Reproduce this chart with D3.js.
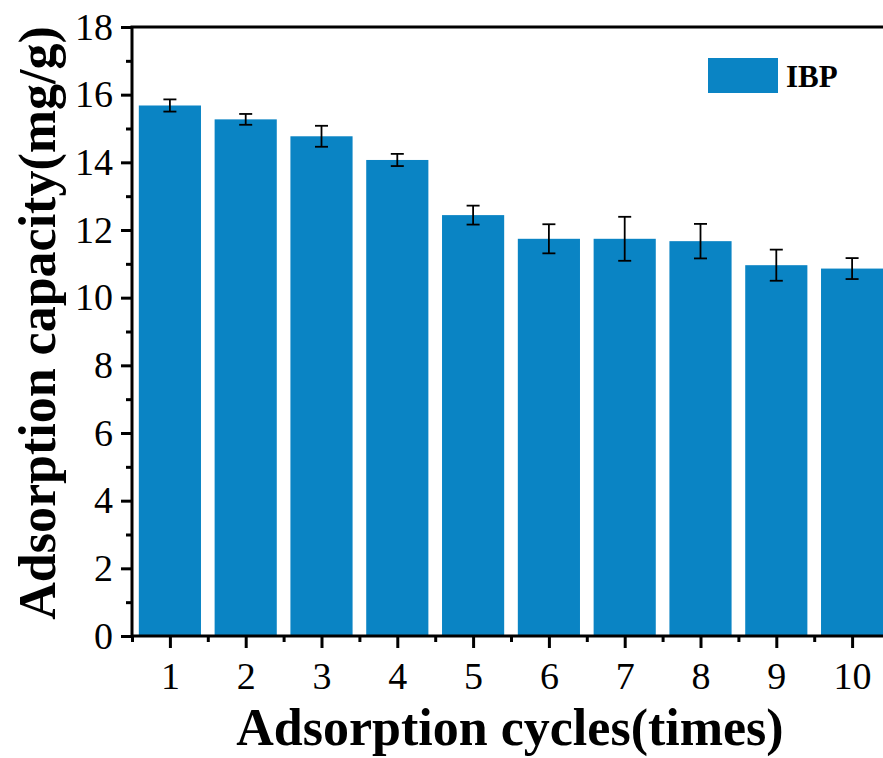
<!DOCTYPE html>
<html>
<head>
<meta charset="utf-8">
<script src="https://cdn.jsdelivr.net/npm/d3@7"></script>
<style>
  body { margin: 0; background: #fff; }
  svg { display: block; }
  text { font-family: "Liberation Serif", "Times New Roman", serif; fill: #000; }
</style>
</head>
<body>
<div id="chart"></div>
<script>
var cycles = [1, 2, 3, 4, 5, 6, 7, 8, 9, 10];
var capacity = [15.68, 15.27, 14.77, 14.07, 12.44, 11.74, 11.74, 11.67, 10.96, 10.86];
var errors = [0.18, 0.16, 0.31, 0.18, 0.28, 0.43, 0.65, 0.51, 0.46, 0.31];
var yTicks = [0, 2, 4, 6, 8, 10, 12, 14, 16, 18];
var seriesName = "IBP";

(function() {
  var width = 883;
  var height = 758;
  var left = 132, top = 27, bottom = 636, right = 890;
  var barColor = "#0a84c4";

  var svg = d3.select("#chart")
    .append("svg")
    .attr("width", width)
    .attr("height", height);

  var x = d3.scaleLinear().domain([0.5, 10.5]).range([left, right]);
  var y = d3.scaleLinear().domain([0, 18]).range([bottom, top]);
  var barW = (x(2) - x(1)) * 0.82;

  // bars
  svg.selectAll(".bar")
    .data(cycles)
    .enter().append("rect")
    .attr("class", "bar")
    .attr("x", function(d){ return x(d) - barW / 2 })
    .attr("y", function(d, i){ return y(capacity[i]) })
    .attr("width", barW)
    .attr("height", function(d, i){ return y(0) - y(capacity[i]) })
    .attr("fill", barColor);

  // error bars
  var eb = svg.selectAll(".err")
    .data(cycles)
    .enter().append("g")
    .attr("class", "err")
    .attr("stroke", "#000")
    .attr("stroke-width", 1.8);
  eb.append("line")
    .attr("x1", function(d){ return x(d) })
    .attr("x2", function(d){ return x(d) })
    .attr("y1", function(d, i){ return y(capacity[i] + errors[i]) })
    .attr("y2", function(d, i){ return y(capacity[i] - errors[i]) });
  [1, -1].forEach(function(s){
    eb.append("line")
      .attr("x1", function(d){ return x(d) - 6.5 })
      .attr("x2", function(d){ return x(d) + 6.5 })
      .attr("y1", function(d, i){ return y(capacity[i] + s * errors[i]) })
      .attr("y2", function(d, i){ return y(capacity[i] + s * errors[i]) });
  });

  // y axis
  var yAxis = svg.append("g")
    .attr("transform", "translate(" + left + ",0)")
    .call(d3.axisLeft(y).tickValues(yTicks).tickSize(11).tickPadding(8).tickFormat(d3.format("d")));
  svg.append("g")
    .attr("transform", "translate(" + left + ",0)")
    .call(d3.axisLeft(y).tickValues(d3.range(1, 18, 2)).tickSize(6).tickFormat(""))
    .select(".domain").remove();

  // x axis
  var xAxis = svg.append("g")
    .attr("transform", "translate(0," + bottom + ")")
    .call(d3.axisBottom(x).tickValues(cycles).tickSize(12).tickPadding(14).tickFormat(d3.format("d")));
  svg.append("g")
    .attr("transform", "translate(0," + bottom + ")")
    .call(d3.axisBottom(x).tickValues(d3.range(0.5, 10.6, 1)).tickSize(6).tickFormat(""))
    .select(".domain").remove();

  svg.selectAll(".tick line").attr("stroke", "#000").attr("stroke-width", 3);
  svg.selectAll(".domain").attr("stroke", "#000").attr("stroke-width", 3);
  yAxis.select(".domain").attr("d", "M0," + bottom + "V" + top);
  xAxis.select(".domain").attr("d", "M" + left + ",0H" + right);
  svg.selectAll(".tick text").style("font-size", "38px").attr("fill", "#000");

  // top frame line
  svg.append("line")
    .attr("x1", left - 1.5).attr("x2", right)
    .attr("y1", top).attr("y2", top)
    .attr("stroke", "#000").attr("stroke-width", 3);

  // axis titles
  svg.append("text")
    .attr("x", 510)
    .attr("y", 745)
    .attr("text-anchor", "middle")
    .style("font-size", "52px")
    .style("font-weight", "bold")
    .text("Adsorption cycles(times)");

  svg.append("text")
    .attr("transform", "translate(55,323) rotate(-90)")
    .attr("text-anchor", "middle")
    .style("font-size", "52px")
    .style("font-weight", "bold")
    .text("Adsorption capacity(mg/g)");

  // legend
  svg.append("rect")
    .attr("x", 708).attr("y", 58)
    .attr("width", 70).attr("height", 35)
    .attr("fill", barColor);
  svg.append("text")
    .attr("x", 786).attr("y", 87)
    .style("font-size", "31px")
    .style("font-weight", "bold")
    .text(seriesName);
})();
</script>
</body>
</html>
